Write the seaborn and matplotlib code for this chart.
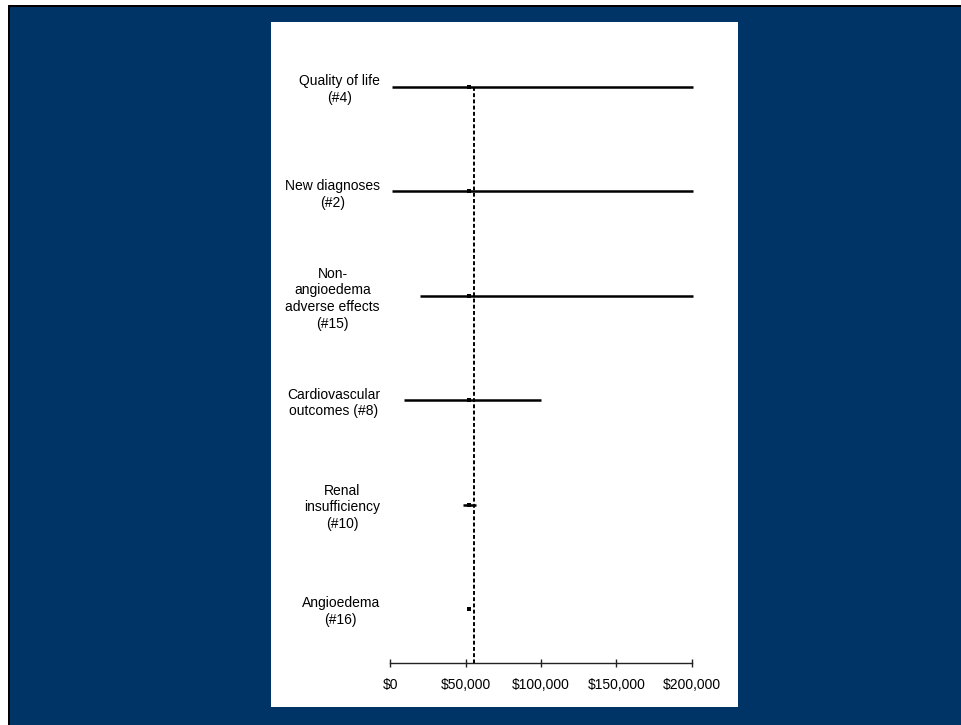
import matplotlib
matplotlib.use("Agg")
import matplotlib.pyplot as plt
import seaborn as sns
import pandas as pd
from matplotlib.patches import Rectangle

# ---- data ----
categories = ["Quality of life\n(#4)", "New diagnoses\n(#2)",
              "Non-\nangioedema\nadverse effects\n(#15)",
              "Cardiovascular\noutcomes (#8)", "Renal\ninsufficiency\n(#10)",
              "Angioedema\n(#16)"]
low_values = [1000, 1000, 20000, 9000, 48000, 52000]
high_values = [201000, 201000, 201000, 100000, 56800, 53000]
base_values = [52500, 52500, 52500, 52500, 52500, 52500]
reference_value = 55500
tick_values = [0, 50000, 100000, 150000, 200000]
tick_labels = ["$0", "$50,000", "$100,000", "$150,000", "$200,000"]

df = pd.DataFrame({"category": categories, "low": low_values,
                   "high": high_values, "base": base_values})
df["pos"] = range(len(df))

sns.set_theme(style="white")
plt.rcParams["font.family"] = ["Liberation Sans", "DejaVu Sans"]
plt.rcParams["text.color"] = "black"
plt.rcParams["xtick.color"] = "black"
plt.rcParams["ytick.color"] = "black"
plt.rcParams["xtick.labelcolor"] = "black"
plt.rcParams["ytick.labelcolor"] = "black"

W, H = 961, 725
fig = plt.figure(figsize=(W / 100, H / 100), dpi=100)
fig.patch.set_facecolor("white")

def prect(x0, y0, x1, y1, color):
    fig.patches.append(Rectangle((x0 / W, 1 - y1 / H), (x1 - x0) / W, (y1 - y0) / H,
                                 transform=fig.transFigure, facecolor=color,
                                 edgecolor="none", zorder=-10))

prect(8, 5, W, H, "black")
prect(10, 7, W, H, "#003366")
prect(271, 22, 738, 707, "white")

# axes placement (pixels)
x0p, x1p = 390.3, 691.7
row0, row_step = 87.0, 104.4
axis_y = 663.0
n = len(categories)
ylim_bottom = (n - 1) + (axis_y - row0 - (n - 1) * row_step) / row_step
ytop = -0.5
top_px = row0 + ytop * row_step
ax = fig.add_axes([x0p / W, 1 - axis_y / H, (x1p - x0p) / W, (axis_y - top_px) / H])
ax.set_facecolor("none")

ax.hlines(df["pos"], df["low"], df["high"], color="black", lw=1.8, clip_on=False, zorder=3)
sns.scatterplot(data=df, x="base", y="pos", marker="s", s=7, color="black",
                edgecolor="black", linewidth=0, ax=ax, zorder=4, clip_on=False)
ax.vlines(reference_value, 0, ylim_bottom, color="black", lw=1.4,
          linestyles=(0, (2.0, 1.2)), zorder=5, clip_on=False)

ax.set_xlim(0, 200000)
ax.set_ylim(ylim_bottom, ytop)
ax.set_xticks(tick_values)
ax.set_xticklabels(tick_labels, fontsize=10, color="black")
ax.set_yticks(df["pos"])
ax.set_yticklabels(categories, fontsize=10, ha="right", multialignment="center",
                   color="black")
ax.tick_params(axis="y", length=0, pad=7.5)
ax.tick_params(axis="x", direction="inout", length=6, width=1, color="#222222",
               pad=7.5, bottom=True)
for lab in ax.get_yticklabels():
    lab.set_linespacing(1.25)
ax.set_xlabel("")
ax.set_ylabel("")
for s in ["top", "right", "left"]:
    ax.spines[s].set_visible(False)
ax.spines["bottom"].set_color("#222222")
ax.spines["bottom"].set_linewidth(1)
if ax.get_legend():
    ax.get_legend().remove()

fig.savefig("out.png", dpi=100)
